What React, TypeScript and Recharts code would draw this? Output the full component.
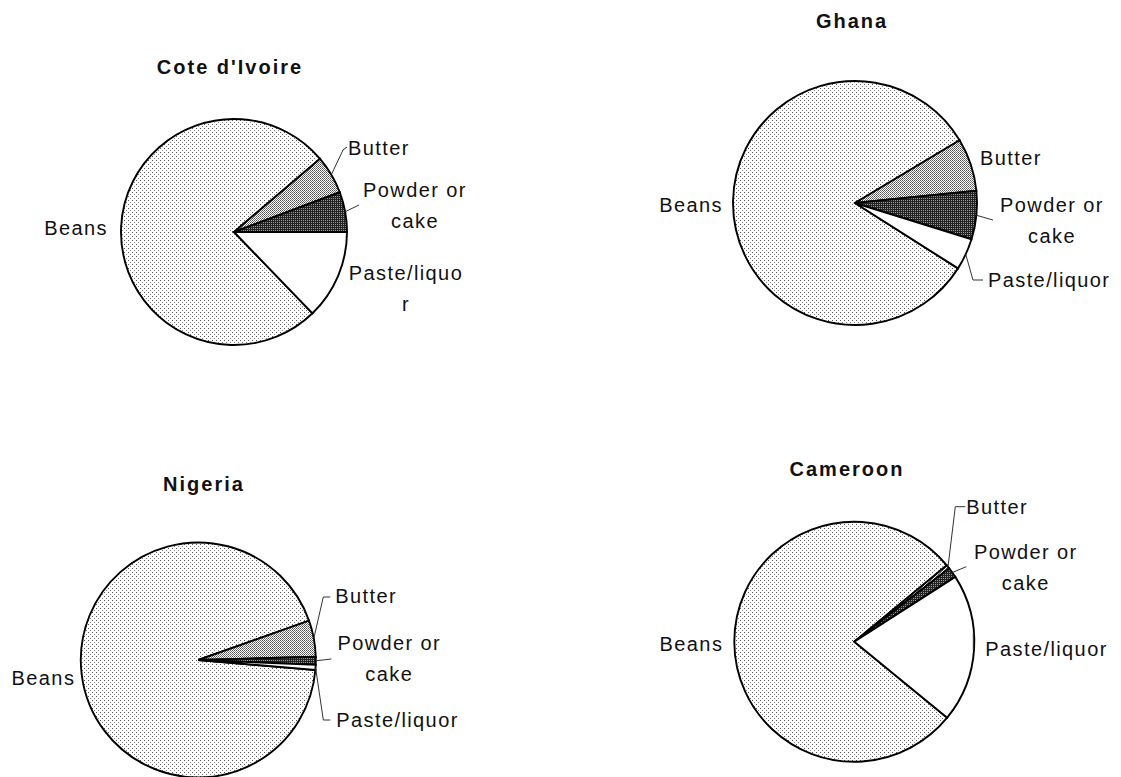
import React from 'react';
import { PieChart, Pie, Cell } from 'recharts';

const categories = ['Beans', 'Butter', 'Powder or cake', 'Paste/liquor'];
const countries = ["Cote d'Ivoire", 'Ghana', 'Nigeria', 'Cameroon'];
const coteValues = [76.0, 5.5, 5.7, 12.8];
const ghanaValues = [82.4, 7.0, 6.4, 4.2];
const nigeriaValues = [93.2, 5.0, 1.1, 0.7];
const cameroonValues = [78.1, 0.5, 1.4, 20.0];

const fills = ['url(#patBeans)', 'url(#patButter)', 'url(#patPowder)', '#ffffff'];

type LabelLayout = {
  anchor: 'start' | 'middle' | 'end';
  x: number;
  y: number;
  wrap?: number;
  leader?: number[][];
  fromEdge?: boolean;
};

type ChartDef = {
  title: string;
  values: number[];
  cx: number;
  cy: number;
  r: number;
  start: number;
  titleX: number;
  titleY: number;
  labels: LabelLayout[];
};

const charts: ChartDef[] = [
  {
    title: countries[0], values: coteValues, cx: 234, cy: 232, r: 113, start: -46, titleX: 230, titleY: 74,
    labels: [
      { anchor: 'end', x: -126, y: 3 },
      { anchor: 'start', x: 114, y: -77, leader: [[109, -82], [113, -85]] },
      { anchor: 'middle', x: 181, y: -35, wrap: 10, leader: [[125, -27]] },
      { anchor: 'middle', x: 172, y: 48, wrap: 11 },
    ],
  },
  {
    title: countries[1], values: ghanaValues, cx: 855, cy: 203, r: 122, start: -32.4, titleX: 852, titleY: 28,
    labels: [
      { anchor: 'end', x: -132, y: 9 },
      { anchor: 'start', x: 125, y: -38 },
      { anchor: 'middle', x: 197, y: 9, wrap: 10, leader: [[138, 17]] },
      { anchor: 'start', x: 133, y: 84, leader: [[118, 77], [128, 77]] },
    ],
  },
  {
    title: countries[2], values: nigeriaValues, cx: 198.3, cy: 660, r: 117.5, start: -4.9, titleX: 204, titleY: 491,
    labels: [
      { anchor: 'end', x: -123, y: 25 },
      { anchor: 'start', x: 137, y: -57, leader: [[125, -63], [132, -63]] },
      { anchor: 'middle', x: 191, y: -10, wrap: 10, leader: [[133, -1]] },
      { anchor: 'start', x: 138, y: 67, leader: [[125, 60], [132, 60]] },
    ],
  },
  {
    title: countries[3], values: cameroonValues, cx: 854.3, cy: 641.7, r: 120, start: -39.3, titleX: 847, titleY: 476,
    labels: [
      { anchor: 'end', x: -131, y: 9 },
      { anchor: 'start', x: 112, y: -128, leader: [[101, -135], [111, -135]] },
      { anchor: 'middle', x: 171.5, y: -83, wrap: 10, leader: [[112, -75]] },
      { anchor: 'start', x: 131, y: 14, fromEdge: false, leader: [[119, -9], [119, 8]] },
    ],
  },
];

function wrapText(s: string, max?: number): string[] {
  if (!max) return [s];
  const words = s.split(' ');
  const lines: string[] = [];
  let cur = '';
  for (const w of words) {
    const t = cur ? cur + ' ' + w : w;
    if (t.length <= max) cur = t;
    else {
      if (cur) lines.push(cur);
      cur = w;
    }
  }
  if (cur) lines.push(cur);
  const out: string[] = [];
  for (const l of lines) {
    let x = l;
    while (x.length > max) {
      out.push(x.slice(0, max));
      x = x.slice(max);
    }
    out.push(x);
  }
  return out;
}

const FONT = '"Liberation Sans", Arial, sans-serif';

const makeLabel = (layout: LabelLayout[]) => (props: any) => {
  const { cx, cy, midAngle, outerRadius, index } = props;
  const name = props.name ?? props.payload?.name;
  const L = layout[index];
  const RAD = Math.PI / 180;
  const ex = cx + outerRadius * Math.cos(-midAngle * RAD);
  const ey = cy + outerRadius * Math.sin(-midAngle * RAD);
  const pts = L.leader
    ? [...(L.fromEdge === false ? [] : [[ex, ey]]), ...L.leader.map(([dx, dy]) => [cx + dx, cy + dy])]
    : null;
  const lines = wrapText(String(name), L.wrap);
  return (
    <g key={`lbl-${index}`}>
      {pts && (
        <polyline
          points={pts.map((p) => p.join(',')).join(' ')}
          fill="none"
          stroke="#333"
          strokeWidth={1}
        />
      )}
      <text
        x={cx + L.x}
        y={cy + L.y}
        textAnchor={L.anchor}
        fontFamily={FONT}
        fontSize={20}
        letterSpacing={1.4}
        fill="#111"
      >
        {lines.map((ln, i) => (
          <tspan key={i} x={cx + L.x} dy={i === 0 ? 0 : 31}>
            {ln}
          </tspan>
        ))}
      </text>
    </g>
  );
};

export default function App() {
  return (
    <div style={{ position: 'absolute', left: 0, top: 0, width: 1121, height: 777, background: '#fff' }}>
      <svg width={1121} height={777} style={{ position: 'absolute', left: 0, top: 0 }}>
        <defs>
          <pattern id="patBeans" width={4} height={4} patternUnits="userSpaceOnUse">
            <rect width={4} height={4} fill="#ffffff" />
            <rect x={0} y={0} width={1} height={1} fill="#555" />
            <rect x={2} y={2} width={1} height={1} fill="#888" />
          </pattern>
          <pattern id="patButter" width={2} height={2} patternUnits="userSpaceOnUse">
            <rect width={2} height={2} fill="#ffffff" />
            <rect x={0} y={0} width={1} height={1} fill="#555" />
            <rect x={1} y={1} width={1} height={1} fill="#777" />
          </pattern>
          <pattern id="patPowder" width={2} height={2} patternUnits="userSpaceOnUse">
            <rect width={2} height={2} fill="#222" />
            <rect x={1} y={0} width={1} height={1} fill="#9a9a9a" />
          </pattern>
        </defs>
        {charts.map((c) => (
          <text
            key={c.title}
            x={c.titleX}
            y={c.titleY}
            textAnchor="middle"
            fontFamily={FONT}
            fontWeight="bold"
            fontSize={20}
            letterSpacing={2}
            fill="#111"
          >
            {c.title}
          </text>
        ))}
      </svg>
      <div style={{ position: 'absolute', left: 0, top: 0 }}>
        <PieChart width={1121} height={777} margin={{ top: 0, right: 0, bottom: 0, left: 0 }}>
          {charts.map((c) => (
            <Pie
              key={c.title}
              data={categories.map((name, i) => ({ name, value: c.values[i] }))}
              dataKey="value"
              nameKey="name"
              cx={c.cx}
              cy={c.cy}
              outerRadius={c.r}
              innerRadius={0}
              startAngle={c.start}
              endAngle={c.start - 360}
              paddingAngle={0}
              stroke="#000"
              strokeWidth={1.9}
              label={makeLabel(c.labels)}
              labelLine={false}
              isAnimationActive={false}
            >
              {categories.map((cat, i) => (
                <Cell key={cat} fill={fills[i]} stroke="#000" strokeWidth={1.9} />
              ))}
            </Pie>
          ))}
        </PieChart>
      </div>
    </div>
  );
}
